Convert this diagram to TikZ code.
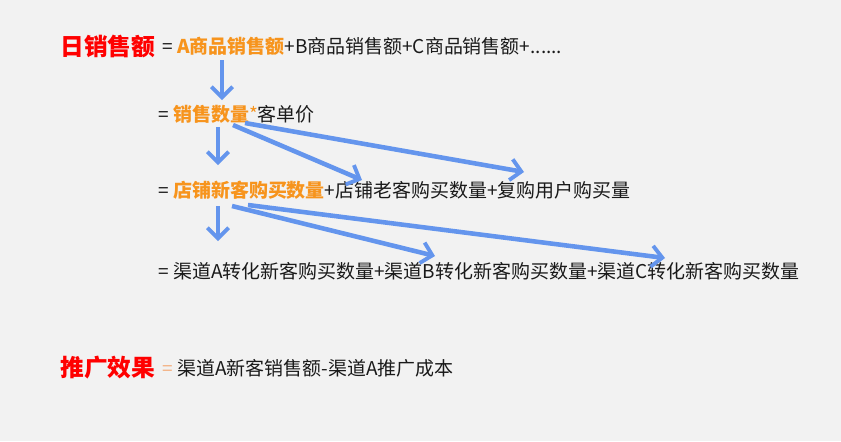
\documentclass[tikz,border=0pt]{standalone}
\usepackage{fontspec}
\newfontfamily\cjk{Noto Sans CJK SC}
\usepackage{tikz}
\usetikzlibrary{arrows.meta}
\definecolor{bg}{HTML}{F2F2F2}
\definecolor{hot}{HTML}{FF0000}
\definecolor{org}{HTML}{F7941D}
\definecolor{paleorg}{HTML}{F4B183}
\definecolor{arr}{HTML}{6495ED}
\definecolor{ink}{HTML}{1A1A1A}
\tikzset{
    title/.style = {anchor=west, inner sep=0pt, text=hot, font=\cjk\bfseries\fontsize{13.5}{15}\selectfont},
    line/.style = {anchor=west, inner sep=0pt, text=ink, font=\cjk\fontsize{10.8}{12}\selectfont},
    flow/.style = {draw=arr, line width=2.6pt, -{Straight Barb[length=6pt, width=12pt, line width=2.2pt]}},
}
\newcommand{\hl}[1]{{\color{org}\bfseries #1}}
\begin{document}
\begin{tikzpicture}[x=0.02cm, y=-0.02cm]
    \fill[bg] (0,0) rectangle (841,441); % background
    \useasboundingbox (0,0) rectangle (841,441);

    \node[title] (daily) at (60,46) {日销售额};
    \node[line] (row1) at (162,46) {= \hl{A商品销售额}+B商品销售额+C商品销售额+......};
    \node[line] (row2) at (158,114) {= \hl{销售数量}{\color{org}*}客单价};
    \node[line] (row3) at (158,190) {= \hl{店铺新客购买数量}+店铺老客购买数量+复购用户购买量};
    \node[line] (row4) at (158,271) {= 渠道A转化新客购买数量+渠道B转化新客购买数量+渠道C转化新客购买数量};
    \node[title] (promo) at (60,368) {推广效果};
    \node[line] (row5) at (162,368) {{\color{paleorg}=} 渠道A新客销售额-渠道A推广成本};

    % arrow ends
    \coordinate (s1) at (222,60);  \coordinate (e1) at (222,100);
    \coordinate (s2) at (218,127); \coordinate (e2) at (218,165);
    \coordinate (s3) at (233,125); \coordinate (e3) at (362,180);
    \coordinate (s4) at (245,123); \coordinate (e4) at (524,172);
    \coordinate (s5) at (218,206); \coordinate (e5) at (218,241);
    \coordinate (s6) at (232,206); \coordinate (e6) at (435,256);
    \coordinate (s7) at (248,205); \coordinate (e7) at (665,258);
    \foreach \i in {1,...,7}
        \draw[flow] (s\i) -- (e\i);
\end{tikzpicture}
\end{document}
